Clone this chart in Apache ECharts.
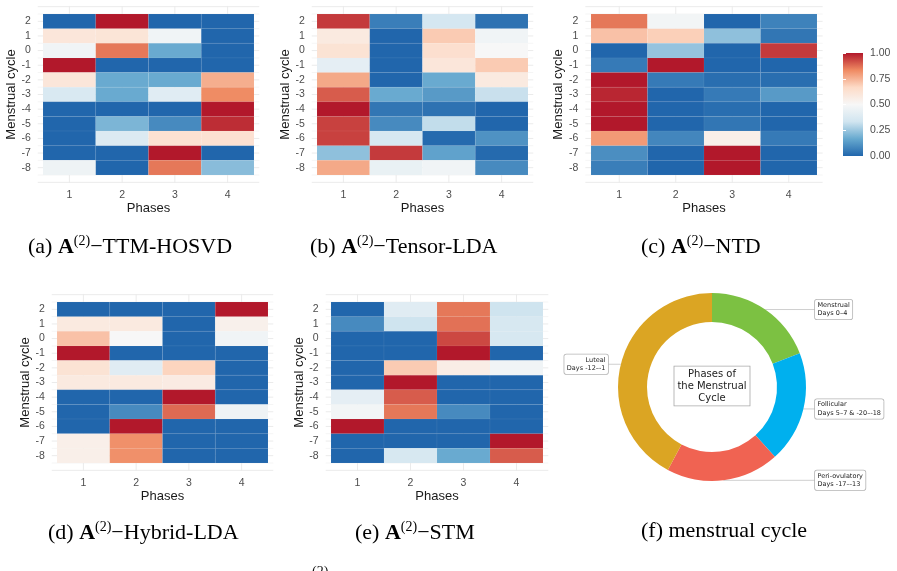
<!DOCTYPE html>
<html>
<head>
<meta charset="utf-8">
<script src="https://cdn.jsdelivr.net/npm/echarts@6/dist/echarts.min.js"></script>
<style>
  html, body { margin: 0; padding: 0; background: #fff; }
  #chart { width: 897px; height: 571px; }
</style>
</head>
<body>
<div id="chart"></div>
<script>
// axes of every heatmap
const phases = [1, 2, 3, 4]
const cycleDays = [2, 1, 0, -1, -2, -3, -4, -5, -6, -7, -8]
const cycleGridLines = [3, 2.5, 2, 1.5, 1, 0.5, 0, -0.5, -1, -1.5, -2, -2.5, -3, -3.5, -4,
  -4.5, -5, -5.5, -6, -6.5, -7, -7.5, -8, -8.5, -9]

// rows follow cycleDays (2 at the top), columns follow phases
const ttmHosvd = [
  [0, 1, 0, 0],
  [0.6, 0.61, 0.47, 0],
  [0.47, 0.86, 0.17, 0],
  [1, 0, 0, 0],
  [0.6, 0.17, 0.17, 0.76],
  [0.37, 0.17, 0.4, 0.83],
  [0, 0, 0, 1],
  [0, 0.2, 0.09, 0.97],
  [0, 0.38, 0.63, 0.63],
  [0, 0, 1, 0],
  [0.46, 0, 0.86, 0.22]
]
const tensorLda = [
  [0.95, 0.06, 0.35, 0.03],
  [0.58, 0, 0.7, 0.47],
  [0.62, 0, 0.64, 0.5],
  [0.42, 0, 0.6, 0.7],
  [0.77, 0, 0.17, 0.58],
  [0.9, 0.17, 0.13, 0.32],
  [1, 0.04, 0.03, 0],
  [0.94, 0.09, 0.31, 0],
  [0.94, 0.36, 0.01, 0.11],
  [0.23, 0.95, 0.15, 0.01],
  [0.77, 0.44, 0.47, 0.09]
]
const ntd = [
  [0.86, 0.48, 0, 0.07],
  [0.72, 0.69, 0.23, 0.04],
  [0, 0.24, 0, 0.95],
  [0.05, 1, 0, 0],
  [1, 0.05, 0.02, 0.02],
  [0.98, 0, 0.05, 0.13],
  [1, 0, 0.02, 0],
  [1, 0, 0.04, 0],
  [0.8, 0.08, 0.55, 0.05],
  [0.1, 0, 1, 0],
  [0.06, 0, 1, 0]
]
const hybridLda = [
  [0, 0, 0, 1],
  [0.58, 0.58, 0, 0.54],
  [0.72, 0.5, 0, 0.47],
  [1, 0, 0, 0],
  [0.62, 0.4, 0.68, 0],
  [0.58, 0.58, 0.57, 0],
  [0, 0, 1, 0],
  [0, 0.09, 0.88, 0.46],
  [0, 1, 0, 0],
  [0.55, 0.82, 0, 0],
  [0.55, 0.82, 0, 0]
]
const stm = [
  [0, 0.4, 0.86, 0.33],
  [0.09, 0.33, 0.87, 0.36],
  [0, 0, 0.93, 0.36],
  [0, 0, 1, 0],
  [0, 0.7, 0.56, 0.47],
  [0, 1, 0, 0],
  [0.42, 0.9, 0, 0],
  [0.48, 0.86, 0.09, 0],
  [1, 0, 0, 0],
  [0, 0, 0, 1],
  [0, 0.36, 0.17, 0.9]
]

// donut (f)
const cycleNames = ['Menstrual', 'Follicular', 'Peri-ovulatory', 'Luteal']
const cycleRanges = ['Days 0–4', 'Days 5–7 & -20–-18', 'Days -17–-13', 'Days -12–-1']
const cycleArc = [69, 69, 70, 152]
const cycleColors = ['#7cc142', '#00b0ee', '#f06352', '#dba523']

const rdbu = ['#2166AC', '#67A9CF', '#D1E5F0', '#F7F7F7', '#FDDBC7', '#EF8A62', '#B2182B']
const sans = 'Liberation Sans'
const serif = 'Liberation Serif'

// cell box of each heatmap: [left, top, width, height]
const panels = [
  { data: ttmHosvd, cells: [43, 14, 211, 161] },
  { data: tensorLda, cells: [317, 14, 211, 161] },
  { data: ntd, cells: [591, 14, 226, 161] },
  { data: hybridLda, cells: [57, 302, 211, 161] },
  { data: stm, cells: [331, 302, 212, 161] }
]

function toCells(matrix) {
  const out = []
  matrix.forEach((row, r) => {
    row.forEach((v, c) => out.push([phases[c], cycleDays[r], v]))
  })
  return out
}

function renderTile(params, api) {
  const x = api.value(0)
  const y = api.value(1)
  const a = api.coord([x - 0.5, y + 0.5])
  const b = api.coord([x + 0.5, y - 0.5])
  return {
    type: 'rect',
    shape: { x: a[0], y: a[1], width: b[0] - a[0], height: b[1] - a[1] },
    style: { fill: api.visual('color'), stroke: 'rgba(255,255,255,0.1)', lineWidth: 0.5 }
  }
}

function renderGridLine(params, api) {
  const cs = params.coordSys
  const kind = api.value(0)
  const pos = api.value(1)
  const major = Math.round(pos) === pos
  let shape
  if (kind === 0) {
    const px = api.coord([pos, 0])[0]
    shape = { x1: px, y1: cs.y, x2: px, y2: cs.y + cs.height }
  } else {
    const py = api.coord([1, pos])[1]
    shape = { x1: cs.x, y1: py, x2: cs.x + cs.width, y2: py }
  }
  return { type: 'line', shape: shape, style: { stroke: '#ebebeb', lineWidth: major ? 1 : 0.5 } }
}

const grids = []
const xAxes = []
const yAxes = []
const series = []
const heatIndex = []

panels.forEach((p, i) => {
  const [l, t, w, h] = p.cells
  const ux = w / 4
  const uy = h / 11
  grids.push({ left: l - 0.1 * ux, top: t - 0.55 * uy, width: 4.2 * ux, height: 12.1 * uy })
  xAxes.push({
    gridIndex: i, type: 'value', min: 0.4, max: 4.6,
    axisLine: { show: false }, axisTick: { show: false }, splitLine: { show: false },
    axisLabel: { customValues: phases, margin: 7, fontFamily: sans, fontSize: 10.5, color: '#4d4d4d' },
    name: 'Phases', nameLocation: 'middle', nameGap: 19,
    nameTextStyle: { fontFamily: sans, fontSize: 13, color: '#1a1a1a' }
  })
  yAxes.push({
    gridIndex: i, type: 'value', min: -9.05, max: 3.05,
    axisLine: { show: false }, axisTick: { show: false }, splitLine: { show: false },
    axisLabel: { customValues: cycleDays, margin: 7, fontFamily: sans, fontSize: 10.5, color: '#4d4d4d' },
    name: 'Menstrual cycle', nameLocation: 'middle', nameGap: 16,
    nameTextStyle: { fontFamily: sans, fontSize: 13, color: '#1a1a1a' }
  })
  const lines = phases.map(v => [0, v]).concat(cycleGridLines.map(v => [1, v]))
  series.push({
    type: 'custom', xAxisIndex: i, yAxisIndex: i, z: 1, silent: true,
    renderItem: renderGridLine, data: lines
  })
  heatIndex.push(series.length)
  series.push({
    type: 'custom', xAxisIndex: i, yAxisIndex: i, z: 2, silent: true,
    renderItem: renderTile, encode: { x: 0, y: 1 }, data: toCells(p.data)
  })
})

// colour bar
grids.push({ left: 843, top: 53, width: 20, height: 103 })
xAxes.push({ gridIndex: 5, type: 'value', min: 0, max: 1, show: false })
yAxes.push({
  gridIndex: 5, type: 'value', min: 0, max: 1, interval: 0.25, position: 'right', z: 5,
  axisLine: { show: false }, splitLine: { show: false },
  axisTick: { show: true, inside: true, length: 3, lineStyle: { color: '#fff', width: 1 } },
  axisLabel: { margin: 7, fontFamily: sans, fontSize: 10.5, color: '#4d4d4d', formatter: v => v.toFixed(2) }
})
yAxes.push({
  gridIndex: 5, type: 'value', min: 0, max: 1, interval: 0.25, position: 'left', z: 5,
  axisLine: { show: false }, splitLine: { show: false }, axisLabel: { show: false },
  axisTick: { show: true, inside: true, length: 3, lineStyle: { color: '#fff', width: 1 } }
})
series.push({
  type: 'custom', xAxisIndex: 5, yAxisIndex: 5, z: 2, silent: true,
  data: [[0, 0, 1]],
  renderItem: function (params, api) {
    const a = api.coord([0, api.value(2)])
    const b = api.coord([1, api.value(1)])
    return {
      type: 'rect',
      shape: { x: a[0], y: a[1], width: b[0] - a[0], height: b[1] - a[1] },
      style: {
        fill: new echarts.graphic.LinearGradient(0, 1, 0, 0,
          rdbu.map((c, k) => ({ offset: k / (rdbu.length - 1), color: c })))
      }
    }
  }
})

// donut
const donutCenter = [712, 387]
series.push({
  type: 'pie',
  center: donutCenter,
  radius: [65, 94],
  startAngle: 90,
  clockwise: true,
  silent: true,
  avoidLabelOverlap: false,
  itemStyle: { borderWidth: 0 },
  data: cycleNames.map((n, k) => ({ name: n, value: cycleArc[k], itemStyle: { color: cycleColors[k] } })),
  label: {
    show: true, position: 'outside',
    formatter: p => p.name + '\n' + cycleRanges[p.dataIndex],
    fontFamily: 'DejaVu Sans', fontSize: 6.5, lineHeight: 8.5, color: '#222',
    backgroundColor: '#fff', borderColor: '#b4b4b4', borderWidth: 0.8, borderRadius: 2,
    padding: [1.5, 2.5, 1, 2.5]
  },
  labelLine: { show: true, length: 8, length2: 8, lineStyle: { color: '#cfcfcf', width: 1 } },
  labelLayout: function (params) {
    const p = params.labelLinePoints[0]
    const right = p[0] > donutCenter[0]
    const x = right ? 815 : 608
    return {
      x: x, y: p[1], align: right ? 'left' : 'right', verticalAlign: 'middle',
      labelLinePoints: [p, p, [x, p[1]]]
    }
  }
})

function caption(left, top, tag, method) {
  const rich = {
    a: { fontFamily: serif, fontSize: 22, fontWeight: 'bold', lineHeight: 26, color: '#111' },
    s: { fontFamily: serif, fontSize: 14, lineHeight: 14, verticalAlign: 'top', color: '#111' },
    t: { fontFamily: serif, fontSize: 22, lineHeight: 26, color: '#111' }
  }
  const text = method
    ? '{t|' + tag + ' }{a|A}{s|(2)}{t|−' + method + '}'
    : '{t|' + tag + '}'
  return { type: 'text', left: left, top: top, style: { text: text, rich: rich } }
}

const chart = echarts.init(document.getElementById('chart'), null, { renderer: 'canvas' })
chart.setOption({
  backgroundColor: '#fff',
  animation: false,
  grid: grids,
  xAxis: xAxes,
  yAxis: yAxes,
  visualMap: {
    type: 'continuous', show: false, min: 0, max: 1, dimension: 2,
    seriesIndex: heatIndex, inRange: { color: rdbu }
  },
  graphic: [
    caption(28, 234, '(a)', 'TTM-HOSVD'),
    caption(310, 234, '(b)', 'Tensor-LDA'),
    caption(641, 234, '(c)', 'NTD'),
    caption(48, 520, '(d)', 'Hybrid-LDA'),
    caption(355, 520, '(e)', 'STM'),
    caption(641, 520, '(f) menstrual cycle', null),
    {
      type: 'text', left: 312, top: 565,
      style: { text: '(2)', fontFamily: serif, fontSize: 14, fill: '#111' }
    },
    {
      type: 'text', x: donutCenter[0], y: donutCenter[1] - 1, z: 10,
      style: {
        text: 'Phases of\nthe Menstrual\nCycle', align: 'center', verticalAlign: 'middle',
        fontFamily: 'DejaVu Sans', fontSize: 10, lineHeight: 12, fill: '#222',
        backgroundColor: '#fff', borderColor: '#a8a8a8', borderWidth: 0.8, padding: [2, 3, 1, 3]
      }
    }
  ],
  series: series
})
</script>
</body>
</html>
